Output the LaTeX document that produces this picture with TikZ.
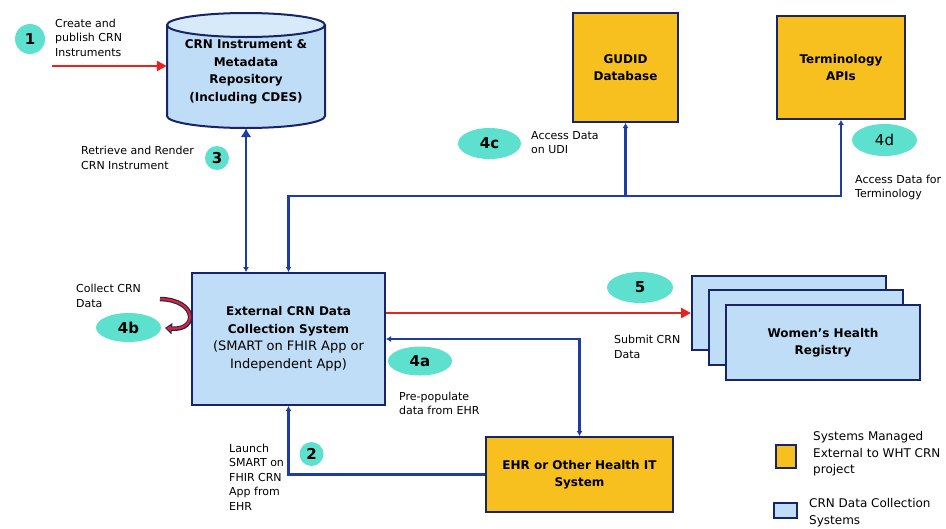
\documentclass[tikz,border=0pt]{standalone}
\usepackage{fontspec}
\setmainfont{DejaVu Sans}
\usepackage{xcolor}
\usepackage{tikz}
\usetikzlibrary{shapes.geometric}
\usetikzlibrary{arrows.meta}
\usetikzlibrary{positioning}
\definecolor{crnblue}{RGB}{191,221,246}
\definecolor{crntop}{RGB}{214,234,250}
\definecolor{sysyellow}{RGB}{248,192,30}
\definecolor{stepteal}{RGB}{94,224,207}
\definecolor{crnnavy}{RGB}{24,36,104}
\definecolor{lineblue}{RGB}{30,60,165}
\definecolor{linered}{RGB}{230,35,31}
\newcommand{\crnplain}[1]{{\mdseries\fontsize{13}{17.5}\selectfont #1}}
\tikzset{
    crnbox/.style = {rectangle, draw=crnnavy, line width=2pt, fill=crnblue, align=center, font=\bfseries\fontsize{12}{17.5}\selectfont},
    sysbox/.style = {crnbox, fill=sysyellow},
    stepnode/.style = {ellipse, fill=stepteal, inner sep=0pt, font=\bfseries\fontsize{15}{15}\selectfont},
    notetext/.style = {anchor=west, align=left, inner sep=0pt, font=\fontsize{11}{14.5}\selectfont},
    legtext/.style = {anchor=west, align=left, inner sep=0pt, font=\fontsize{12}{16.5}\selectfont},
}

\begin{document}
\begin{tikzpicture}[
	x=1pt, y=-1pt,
	>={Latex[length=5pt,width=6pt]}
]
\tikzset{
    edgeb/.style = {line width=2.5pt, lineblue},
    edger/.style = {line width=2.5pt, linered},
}
\useasboundingbox (0,0) rectangle (946,528);
% repository cylinder
\fill[crnblue] (167,25) -- (167,116) arc[start angle=180, end angle=360, x radius=79pt, y radius=12pt] -- (325,25) -- cycle;
\draw[crnnavy, line width=2pt] (167,25) -- (167,116) arc[start angle=180, end angle=360, x radius=79pt, y radius=12pt] -- (325,25);
\filldraw[fill=crntop, draw=crnnavy, line width=2pt] (246,25) ellipse [x radius=79pt, y radius=12pt];
\node[align=center, inner sep=0pt, minimum width=158pt, minimum height=112pt, font=\bfseries\fontsize{12}{17.5}\selectfont] at (246,72) (repo) {CRN Instrument \&\\ Metadata\\ Repository\\ (Including CDES)};
%
\node[sysbox, minimum width=105pt, minimum height=109pt] at (625.5,67.5) (gudid) {GUDID\\ Database};
\node[sysbox, minimum width=128pt, minimum height=103pt] at (841,67.5) (term) {Terminology\\ APIs};
\node[crnbox, minimum width=193pt, minimum height=132pt] at (288.5,339) (ext) {External CRN Data\\ Collection System\\ \crnplain{(SMART on FHIR App or}\\ \crnplain{Independent App)}};
\node[sysbox, minimum width=187pt, minimum height=75pt] at (579.5,474.5) (ehr) {EHR or Other Health IT\\ System};
\node[crnbox, minimum width=194pt, minimum height=74pt] at (789,313) (whrback) {};
\node[crnbox, minimum width=194pt, minimum height=75pt] at (805.5,327.5) (whrmid) {};
\node[crnbox, minimum width=194pt, minimum height=75pt] at (823,342.5) (whr) {Women’s Health\\ Registry};
%
\coordinate (in1) at (52,66);
\coordinate (bus) at (288,196);
\draw[edger, -{Triangle[length=10pt,width=10pt]}] (in1) -- (in1 -| repo.west);
\draw[edgeb, {Latex[length=5pt,width=6pt]}-{Latex[length=9pt,width=11pt]}] (repo.south |- ext.north) -- (repo.south);
\draw[edgeb, <->] (ext.north) -- (ext.north |- bus) -| (term.south);
\draw[edgeb, ->] (gudid.south |- bus) -- (gudid.south);
\draw[edger, -{Triangle[length=10pt,width=10pt]}] (ext.east |- whrback.west) -- (whrback.west);
\draw[edgeb, <->] (ext.east) -- (ext.east -| ehr.north) -- (ehr.north);
\draw[edgeb, ->] (ehr.west) -| (ext.south);
% collect loop
\coordinate (loopa) at (160,299);
\coordinate (loopb) at (165,328);
\draw[crnnavy, line width=4.5pt, -{Triangle[length=7pt,width=11pt]}] (loopa) .. controls (198,300) and (198,331) .. (loopb);
\draw[linered, line width=2.2pt, shorten >=1.5pt, -{Triangle[length=4.5pt,width=6pt]}] (loopa) .. controls (198,300) and (198,331) .. (loopb);
%
\node[stepnode, circle, minimum size=30pt] at (30,39) (s1) {1};
\node[stepnode, circle, minimum size=24pt] at (217,158) (s3) {3};
\node[stepnode, circle, minimum size=24pt] at (311.5,454) (s2) {2};
\node[stepnode, minimum width=63pt, minimum height=31pt] at (489.5,143.5) (s4c) {4c};
\node[stepnode, minimum width=65pt, minimum height=32pt, font=\fontsize{15}{15}\selectfont] at (884.5,140) (s4d) {4d};
\node[stepnode, minimum width=65pt, minimum height=29pt] at (128.5,327.5) (s4b) {4b};
\node[stepnode, minimum width=64pt, minimum height=29pt] at (420,361) (s4a) {4a};
\node[stepnode, minimum width=66pt, minimum height=31pt] at (640,287.5) (s5) {5};
%
\node[notetext] at (55,37.5) (n1) {Create and\\ publish CRN\\ Instruments};
\node[notetext] at (81,158) (n3) {Retrieve and Render\\ CRN Instrument};
\node[notetext] at (531,142.5) (n4c) {Access Data\\ on UDI};
\node[notetext] at (855,187.5) (n4d) {Access Data for\\ Terminology};
\node[notetext] at (76,296) (n4b) {Collect CRN\\ Data};
\node[notetext] at (399,403.5) (n4a) {Pre-populate\\ data from EHR};
\node[notetext] at (614,347) (n5) {Submit CRN\\ Data};
\node[notetext] at (229,477) (n2) {Launch\\ SMART on\\ FHIR CRN\\ App from\\ EHR};
% legend
\node[sysbox, minimum width=20pt, minimum height=23pt, line width=1.6pt] at (786,456.5) (legsys) {};
\node[crnbox, minimum width=23pt, minimum height=15pt, line width=1.6pt] at (785.5,510.5) (legcrn) {};
\node[legtext] at (813,454) (legsystext) {Systems Managed\\ External to WHT CRN\\ project};
\node[legtext] at (809,512.5) (legcrntext) {CRN Data Collection\\ Systems};
\end{tikzpicture}
\end{document}
